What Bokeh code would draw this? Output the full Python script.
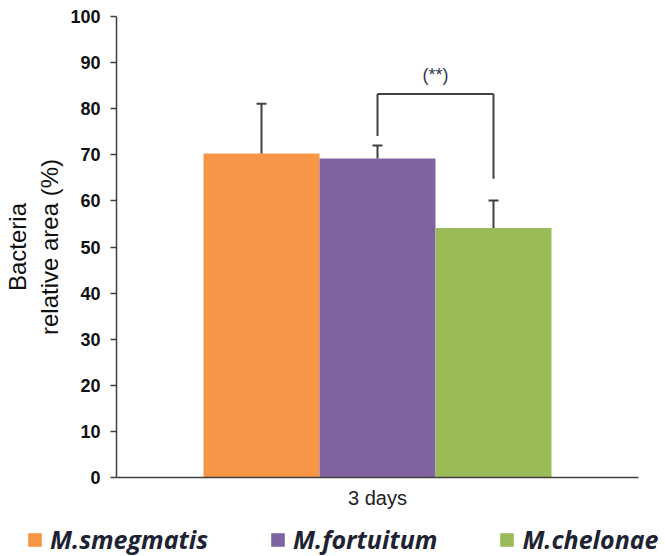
from bokeh.plotting import figure
from bokeh.layouts import column, row
from bokeh.models import (ColumnDataSource, FactorRange, Range1d, Legend, LegendItem,
                          SingleIntervalTicker)
from bokeh.core.properties import value
from bokeh.transform import dodge
from bokeh.embed import file_html
from bokeh.resources import INLINE

# ---- data ----
categories = ["3 days"]
species = ["M.smegmatis", "M.fortuitum", "M.chelonae"]
means = [70.3, 69.2, 54.1]
errors = [10.8, 2.8, 6.0]
colors = ["#F79646", "#8064A2", "#9BBB59"]
bracket_top = 83.2
bracket_left_bottom = 74.1
bracket_right_bottom = 64.8
signif_label = "(**)"
signif_y = 87.3

bar_w = 2 / 9
dark = "#404040"

p = figure(x_range=FactorRange(factors=categories, range_padding=0),
           y_range=Range1d(0, 100),
           width=665, height=512, output_backend="svg", toolbar_location=None,
           min_border_left=116, min_border_right=27, min_border_top=16,
           min_border_bottom=35)
p.outline_line_color = None
p.xgrid.grid_line_color = None
p.ygrid.grid_line_color = None

for i, (sp, m, e, c) in enumerate(zip(species, means, errors, colors)):
    off = (i - 1) * bar_w
    src = ColumnDataSource(dict(x=categories, top=[m], err_top=[m + e]))
    p.vbar(x=dodge("x", off, range=p.x_range), top="top", bottom=0, width=bar_w,
           source=src, fill_color=c, line_color=None)
    p.segment(x0=dodge("x", off, range=p.x_range), y0="top",
              x1=dodge("x", off, range=p.x_range), y1="err_top",
              source=src, line_color=dark, line_width=2)
    p.scatter(x=dodge("x", off, range=p.x_range), y="err_top", marker="dash", size=10,
              angle=0, source=src, line_color=dark, line_width=2)

# significance bracket between M.fortuitum and M.chelonae
bsrc = ColumnDataSource(dict(x=categories, yt=[bracket_top], yl=[bracket_left_bottom],
                             yr=[bracket_right_bottom], ym=[signif_y], t=[signif_label]))
p.segment(x0=dodge("x", 0, range=p.x_range), y0="yl", x1=dodge("x", 0, range=p.x_range),
          y1="yt", source=bsrc, line_color=dark, line_width=2)
p.segment(x0=dodge("x", 0, range=p.x_range), y0="yt", x1=dodge("x", bar_w, range=p.x_range),
          y1="yt", source=bsrc, line_color=dark, line_width=2)
p.segment(x0=dodge("x", bar_w, range=p.x_range), y0="yt", x1=dodge("x", bar_w, range=p.x_range),
          y1="yr", source=bsrc, line_color=dark, line_width=2)
p.text(x=dodge("x", bar_w / 2, range=p.x_range), y="ym", text="t", source=bsrc,
       text_align="center", text_baseline="middle", text_font_size="18px",
       text_font=value("Liberation Sans"), text_color="#2F3B4F")

# axes
p.yaxis.ticker = SingleIntervalTicker(interval=10)
p.yaxis.minor_tick_line_color = None
p.yaxis.major_tick_in = 0
p.yaxis.major_tick_out = 6
p.yaxis.major_label_standoff = 10
p.yaxis.major_label_text_font = "Liberation Sans"
p.yaxis.major_label_text_font_size = "18px"
p.yaxis.major_label_text_font_style = "bold"
p.yaxis.major_label_text_color = "#111111"
p.yaxis.axis_label = "Bacteria\nrelative area (%)"
p.yaxis.axis_label_text_font = "Liberation Sans"
p.yaxis.axis_label_text_font_size = "24px"
p.yaxis.axis_label_text_font_style = "normal"
p.yaxis.axis_label_text_color = "#111111"
p.yaxis.axis_label_text_line_height = 1.2
p.yaxis.axis_label_standoff = 4

for ax in (p.xaxis, p.yaxis):
    ax.axis_line_color = dark
    ax.axis_line_width = 1.5
    ax.major_tick_line_color = dark
    ax.major_tick_line_width = 1.5

p.xaxis.major_tick_line_color = None
p.xaxis.minor_tick_line_color = None
p.xaxis.major_label_standoff = 3
p.xaxis.major_label_text_font = "Liberation Sans"
p.xaxis.major_label_text_font_size = "20px"
p.xaxis.major_label_text_color = "#222222"

# ---- legend strip below the chart ----
lg = figure(width=665, height=44, output_backend="svg", toolbar_location=None,
            x_axis_type=None, y_axis_type=None, x_range=Range1d(0, 1), y_range=Range1d(0, 1),
            min_border=0)
lg.outline_line_color = None
lg.xgrid.grid_line_color = None
lg.ygrid.grid_line_color = None
items = []
for sp, c in zip(species, colors):
    # zero-height bar: only supplies the legend swatch style
    r = lg.vbar(x=[0.5], top=[0], bottom=[0], width=0.0, fill_color=c, line_color=None)
    items.append(LegendItem(label=sp, renderers=[r]))
legend = Legend(items=items, orientation="horizontal", location=(26, 0),
                padding=0, margin=0, spacing=61, glyph_width=17, glyph_height=17,
                label_standoff=7, label_text_font="Open Sans",
                label_text_font_style="bold italic", label_text_font_size="25px",
                label_text_color="#1E2333", border_line_color=None,
                background_fill_alpha=0)
lg.add_layout(legend, "center")

layout = column(p, row(lg), spacing=0)
open("out.html", "w").write(file_html(layout, INLINE))
